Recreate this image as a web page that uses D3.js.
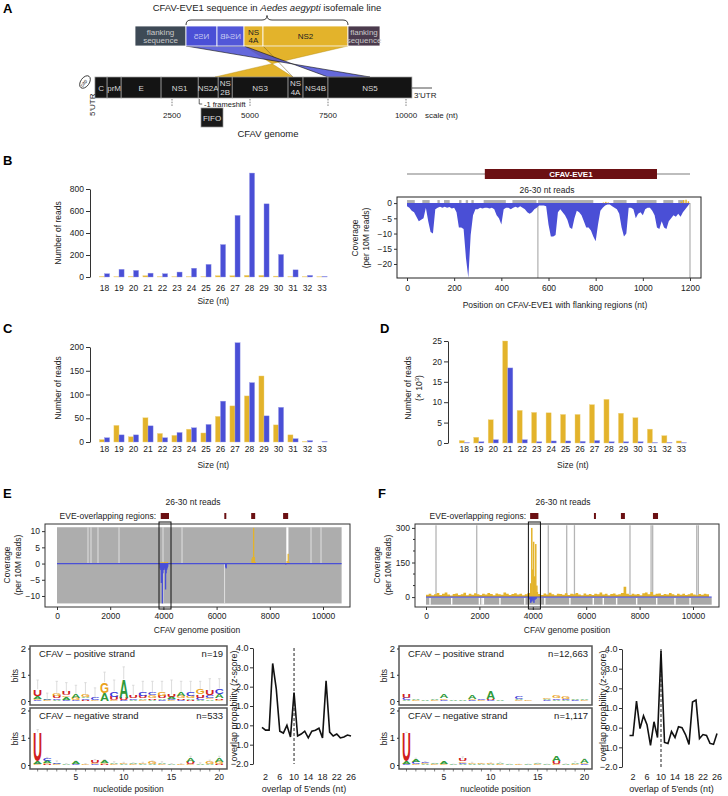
<!DOCTYPE html>
<html><head><meta charset="utf-8">
<script src="https://cdn.jsdelivr.net/npm/d3@7"></script>
<style>
body{margin:0;background:#fff;}
svg text{font-family:"Liberation Sans",Arial,Helvetica,sans-serif;}
</style></head><body>
<svg id="c" width="728" height="796"></svg>
<script>
// ---------------- DATA ----------------
const sizes = [18,19,20,21,22,23,24,25,26,27,28,29,30,31,32,33];
const bSense = [5,3,5,12,3,3,3,3,12,12,15,15,8,3,3,2];
const bAnti  = [30,70,60,35,30,45,80,115,295,560,945,665,205,65,15,5];
const cSense = [5,35,11,51,18,14,27,19,54,76,97,139,36,15,1,0];
const cAnti  = [9,15,15,34,9,20,30,37,86,209,125,55,73,7,3,1];
const dSense = [0.6,1.4,5.7,25,8,7.5,7.4,7,7,9.4,10.7,7.3,6.2,3.4,1.8,0.5];
const dAnti  = [0.1,0.3,0.8,18.4,0.8,0.3,0.5,0.5,0.4,0.6,0.3,0.3,0.3,0.1,0.1,0.05];
const bTicks = [0,200,400,600,800];
const cTicks = [0,50,100,150,200];
const dTicks = [0,5,10,15,20,25];

// Panel A
const genomeSegs = ["C","prM","E","NS1","NS2A","NS\n2B","NS3","NS\n4A","NS4B","NS5"];
const genomeBounds = [30,420,870,2150,3340,3980,4430,6220,6700,7500,10190];
const genomeTicks = [2500,5000,7500,10000];
const eveSegs = ["flanking\nsequence","NS5","NS4B","NS\n4A","NS2","flanking\nsequence"];
const eveBounds = [0,255,410,545,640,1065,1225];
const eveMirror = [false,true,true,false,false,false];
const linkEve = [[545,1065],[255,545]];
const linkGen = [[3878,6378],[8846,7500]];

// Panel B right: coverage on CFAV-EVE1 (per 10 nt)
const covStep = 10;
const covVal = [-1,-1.5,-2.5,-3,-4.5,-6,-5.5,-5,-1.5,-6,-9.5,-10,-2,-1.5,-1.2,-1.5,-1.2,-1.5,-1.3,-1.8,
 -1.5,-3,-8,-8,-8.5,-18,-24.5,-10.5,-4,-2,-2,-1.5,-1.8,-1.5,-1.5,-1.8,-1.5,-2,-4,-5,
 -7,-2,-1.5,-1.5,-2,-1.5,-1.2,-1.5,-1,-1.5,-2,-3,-3.5,-3,-2,-1.5,-0.8,-0.8,-0.8,-1,
 -7,-11,-11,-10.5,-3,-2,-3,-4,-5.5,-8,-8.5,-5,-2.5,-3,-4,-6,-8,-8,-9,-11,
 -12.5,-7,-2.5,-1.5,-0.8,-0.5,-0.5,-1,-1.5,-2,-3.5,-8,-11,-10,-1.5,-1.5,-2,-5,-3.5,-3,
 -4,-2,-1.5,-1.5,-2.5,-4,-8,-8.5,-6,-8,-8.5,-6,-5,-4,-4.5,-3.5,-4.5,-3,-2,-1,0];
const covSensePos = [830,840,850,1160,1170,1180,1190];
const covSenseVal = [0.2,0.4,0.2,0.5,1,1.1,0.6];
const eveMapStart = [0,65,129,157,221,249,273,325,447,556,875,974,1087,1150];
const eveMapEnd   = [33,96,139,181,231,259,283,419,549,790,931,1058,1129,1172];
const eveLines = [555,1200];
const covTicks = [0,-5,-10,-15,-20];
const posTicks = [0,200,400,600,800,1000,1200];

// Panels E/F top
const overlapStart = [3900,6290,7300,8500];
const overlapEnd   = [4210,6350,7450,8690];
const genomeLen = 10700;
const genomeAxisTicks = [0,2000,4000,6000,8000,10000];
const eGapUpper = [1165,1278,1541,2331,3985,4700,9549,9925];
const eGapWide = [8620,8700];
const eGapLower = [3985,6300];
const eAntiPos = [3880,3900,3920,3940,3960,3980,4000,4020,4040,4060,4080,4100,4120,4140,4160,6340,6360,8600];
const eAntiVal = [-1.5,-2,-6,-3,-12.3,-3,-2,-1.5,-1.5,-2,-8,-3,-2,-1.5,-1,-1.2,-1.5,-0.3];
const eSensePos = [3900,3950,4000,4050,4100,4150,7330,7360,7390,7420,7450,8650,8690,8720];
const eSenseVal = [0.4,0.5,0.4,0.5,0.4,0.5,1.5,2,11,2,0.5,0.8,3,0.5];
const eTicks = [-10,-5,0,5,10];

const fGrayLines = [375,1900,4580,5270,5560,7640,8430,8490,10140,10200];
const fRugGaps = [150,962,2000,2100,2150,2770,3700,4450,5390,6265,6640,7140,7890,8640,9325,9890];
const fNoiseStep = 100;
const fNoise = [10,14,8,12,18,9,15,20,11,7,13,16,9,12,19,8,14,10,17,12,9,15,11,18,13,8,16,12,10,20,14,9,13,17,11,15,8,12,18,10,
 14,22,13,9,16,11,19,12,8,15,13,10,17,9,14,12,18,11,8,16,10,13,9,15,12,20,11,14,8,13,16,10,12,18,45,14,9,15,11,13,
 8,17,20,12,22,10,14,16,9,13,11,18,12,8,15,10,14,9,12,17,11,8,13,10,15,12,9];
const fSpikePos = [3920,3960,4000,4030,4070,4110,4150];
const fSpikeVal = [60,300,120,240,90,230,50];
const fAntiPos = [3880,3920,3960,4000,4040,4080,4120];
const fAntiVal = [-10,-25,-20,-15,-25,-12,-8];
const fTicks = [0,150,300];
const fMinor = [50,100,200,250];

// Logos
const logoEPos = [
 [["C",.04],["G",.04],["A",.12],["U",.25]],
 [["G",.02],["C",.02],["A",.04]],
 [["A",.05],["C",.06],["U",.07],["G",.12]],
 [["C",.05],["A",.1],["G",.06],["U",.14]],
 [["C",.04],["G",.08],["A",.14]],
 [["U",.04],["C",.06],["A",.06],["G",.08]],
 [["G",.03],["C",.07]],
 [["A",.3],["G",.42]],
 [["G",.04],["U",.13],["C",.2]],
 [["C",.02],["U",.11],["A",.7]],
 [["A",.04],["C",.06],["U",.12]],
 [["G",.04],["A",.06],["U",.08],["C",.15]],
 [["A",.05],["U",.06],["G",.1],["C",.12]],
 [["C",.04],["A",.06],["U",.1],["G",.16]],
 [["G",.03],["C",.05],["A",.07],["U",.1]],
 [["C",.05],["U",.06],["G",.09],["A",.13]],
 [["U",.04],["A",.06],["G",.1],["C",.13]],
 [["A",.05],["C",.08],["U",.12],["G",.2]],
 [["A",.06],["G",.06],["C",.1],["U",.18]],
 [["G",.04],["U",.06],["A",.17],["C",.2]]];
const logoEPosErr = [0.8,0.3,0.75,0.7,0.6,0.7,0.5,1.1,0.8,1.3,0.6,0.75,0.75,0.75,0.8,0.75,0.75,0.75,0.85,0.85];
const logoENeg = [
 [["G",.02],["C",.03],["A",.1],["U",1.05]],
 [["U",.03],["G",.04],["A",.07],["C",.08]],
 [["G",.02],["A",.03],["C",.05]],
 [["A",.02]],
 [["C",.02],["A",.08]],
 [["G",.02]],
 [["C",.02],["G",.04],["U",.07]],
 [["U",.03],["G",.05],["A",.07]],
 [["G",.03],["A",.05]],
 [["A",.02],["G",.03]],
 [["G",.02],["A",.03]],
 [["A",.02],["G",.03]],
 [["A",.03],["G",.07]],
 [["G",.03],["A",.05]],
 [["A",.02]],
 [["G",.02]],
 [["G",.02],["U",.08],["A",.15]],
 [["A",.03]],
 [["A",.04],["G",.08]],
 [["U",.03],["G",.08],["A",.14]]];
const logoENegErr = [1.3,0.28,0.15,0.05,0.15,0.05,0.2,0.2,0.12,0.1,0.08,0.1,0.15,0.12,0.05,0.05,0.32,0.08,0.18,0.32];
const logoFPos = [
 [["A",.04],["C",.08],["U",.13]],
 [["G",.02],["A",.02]],
 [["A",.02]],
 [["G",.02],["A",.02]],
 [["C",.04],["G",.06],["A",.15]],
 [["A",.02]],
 [["A",.02]],
 [["C",.03],["G",.06],["A",.13]],
 [["G",.02],["C",.04]],
 [["C",.03],["U",.05],["A",.28]],
 [["A",.02]],
 [["A",.01]],
 [["G",.03],["A",.04],["C",.12]],
 [["G",.02]],
 [["A",.01]],
 [["C",.03],["A",.03],["G",.05]],
 [["A",.04],["C",.06],["G",.1]],
 [["A",.03],["C",.05],["G",.07]],
 [["C",.02],["A",.03]],
 [["G",.03],["A",.06]]];
const logoFNeg = [
 [["C",.02],["G",.03],["A",.08],["U",1.05]],
 [["G",.03],["C",.07],["A",.1]],
 [["A",.03],["G",.03],["C",.05]],
 [["G",.02],["A",.03]],
 [["G",.03],["A",.07]],
 [["A",.02]],
 [["A",.03],["C",.05],["G",.05],["U",.08]],
 [["A",.03],["G",.05]],
 [["A",.02],["G",.03]],
 [["A",.03],["G",.03]],
 [["G",.03],["A",.05]],
 [["A",.02]],
 [["G",.02]],
 [["A",.02]],
 [["G",.02],["A",.04]],
 [["A",.02]],
 [["G",.03],["U",.1],["A",.17]],
 [["A",.03]],
 [["G",.04],["A",.06]],
 [["C",.03],["G",.06],["A",.12]]];
const logoFNegErr = [1.2,0.25,0.13,0.06,0.12,0.03,0.3,0.1,0.06,0.08,0.1,0.03,0.03,0.03,0.07,0.03,0.3,0.04,0.12,0.23];
const nucPositions = [1,2,3,4,5,6,7,8,9,10,11,12,13,14,15,16,17,18,19,20];
const nucTicks = [5,10,15,20];

// z-scores
const overlaps = [1,2,3,4,5,6,7,8,9,10,11,12,13,14,15,16,17,18,19,20,21,22,23,24,25,26];
const zE = [-0.1,-0.25,-0.25,3.2,1.9,-0.3,-0.4,0,-0.6,1.7,-0.55,-0.45,-0.3,-0.65,-0.3,-0.25,-0.15,-0.65,2.3,-0.35,-0.55,-0.45,-0.65,-0.6,-0.5,-0.55];
const zF = [-0.4,-0.4,1.35,-0.05,0.6,0.15,-0.9,0.3,-0.5,3.9,-0.75,-0.8,-0.2,-0.5,0.05,0,-0.35,-0.85,1.3,1.4,-0.55,-0.35,-0.4,-0.8,-0.85,-0.3];
const zTicks = [-2,-1,0,1,2,3,4];
const ovTicks = [2,6,10,14,18,22,26];

// ---------------- DRAW ----------------
const BLUE="#4a4fd6", YEL="#e3b32b", DRED="#6b1013", GRAY="#b0b0b0";
const LCOL = {A:"#2f9a3a",C:"#3a3ad8",G:"#eaa21c",U:"#d0201e"};
const LW = {A:7.22,C:7.22,G:7.78,U:7.22};
const svg = d3.select("#c");
svg.append("rect").attr("width",728).attr("height",796).attr("fill","#fff");
const fmtInt = d3.format("d");

function txt(g,x,y,s,o={}){
  const t=g.append("text").attr("x",x).attr("y",y).text(s)
   .attr("font-size",o.fs||8.5).attr("fill",o.fill||"#222");
  if(o.anchor) t.attr("text-anchor",o.anchor);
  if(o.fw) t.attr("font-weight",o.fw);
  if(o.rot) t.attr("transform",`rotate(${o.rot},${x},${y})`);
  return t;
}
function styleAxis(ag){
  ag.attr("font-family",null).attr("font-size",8.5);
  ag.selectAll("text").attr("fill","#222");
  ag.selectAll("line").attr("stroke","#333");
  ag.select(".domain").attr("stroke","#333");
  return ag;
}
function panelLabel(x,y,s){ txt(svg,x,y,s,{fs:13,fw:"bold",fill:"#000"}); }

// ===== Panel A =====
panelLabel(3,13,"A");
const gA = svg.append("g");
const gx = d3.scaleLinear().domain([0,10000]).range([94,406]);
const ex = d3.scaleLinear().domain([0,1225]).range([135,380]);
{
  const t = gA.append("text").attr("x",267).attr("y",11).attr("text-anchor","middle").attr("font-size",9.5).attr("fill","#222");
  t.append("tspan").text("CFAV-EVE1 sequence in ");
  t.append("tspan").attr("font-style","italic").text("Aedes aegypti");
  t.append("tspan").text(" isofemale line");
  const b0=ex(eveBounds[1]), b1=ex(eveBounds[5]), m=(b0+b1)/2;
  gA.append("path").attr("d",`M${b0},25 Q${b0},20 ${b0+5},20 L${m-5},20 Q${m},20 ${m},15.5 Q${m},20 ${m+5},20 L${b1-5},20 Q${b1},20 ${b1},25`)
    .attr("fill","none").attr("stroke","#222").attr("stroke-width",0.9);
}
// links
gA.append("polygon").attr("points",[[ex(linkEve[0][0]),46],[ex(linkEve[0][1]),46],[gx(linkGen[0][0]),77],[gx(linkGen[0][1]),77]].map(p=>p.join(",")).join(" "))
  .attr("fill",YEL).attr("stroke","#b08a10").attr("stroke-width",0.4);
gA.append("line").attr("x1",ex(640)).attr("y1",46).attr("x2",gx(linkGen[0][1])).attr("y2",77).attr("stroke","#6a5a20").attr("stroke-width",0.5);
gA.append("polygon").attr("points",[[ex(linkEve[1][0]),46],[ex(linkEve[1][1]),46],[gx(linkGen[1][1]),77],[gx(linkGen[1][0]),77]].map(p=>p.join(",")).join(" "))
  .attr("fill",BLUE).attr("fill-opacity",0.85).attr("stroke","#111").attr("stroke-width",0.6);
// EVE bar
const eveCols = ["#3e4a56",BLUE,"#5257d8",YEL,YEL,"#4b3b4d"];
const eveTxt = ["#c9c9c9","#c5c8f0","#c5c8f0","#222","#222","#c9c9c9"];
eveSegs.forEach((s,i)=>{
  const x0=ex(eveBounds[i]), x1=ex(eveBounds[i+1]);
  gA.append("rect").attr("x",x0).attr("y",26).attr("width",x1-x0).attr("height",20).attr("fill",eveCols[i]).attr("stroke","#fff").attr("stroke-width",0.8);
  const lines=s.split("\n"), cx=(x0+x1)/2;
  lines.forEach((l,j)=>{
    const y = lines.length===1 ? 39 : 34.5+j*8;
    const t = txt(gA,cx,y,l,{fs:8,anchor:"middle",fill:eveTxt[i]});
    if(eveMirror[i]) t.attr("transform",`translate(${2*cx},0) scale(-1,1)`);
  });
});
// genome bar
genomeSegs.forEach((s,i)=>{
  const x0=gx(genomeBounds[i]), x1=gx(genomeBounds[i+1]);
  gA.append("rect").attr("x",x0).attr("y",77).attr("width",x1-x0).attr("height",21).attr("fill","#141414").attr("stroke","#a0a0a0").attr("stroke-width",0.7);
  const lines=s.split("\n"), cx=(x0+x1)/2;
  lines.forEach((l,j)=>{
    const y = lines.length===1 ? 91 : 86+j*8.5;
    txt(gA,cx,y,l,{fs:8,anchor:"middle",fill:"#d8d8d8"});
  });
});
gA.append("ellipse").attr("cx",85).attr("cy",82).attr("rx",7).attr("ry",4.3).attr("transform","rotate(-55,85,82)").attr("fill","#fff").attr("stroke","#222").attr("stroke-width",0.8);
txt(gA,85,84,"cap",{fs:5,anchor:"middle",rot:-55});
txt(gA,95,116,"5'UTR",{fs:8,rot:-90});
gA.append("line").attr("x1",gx(genomeBounds[10])).attr("x2",432).attr("y1",88).attr("y2",88).attr("stroke","#222").attr("stroke-width",0.8);
txt(gA,414,98,"3'UTR",{fs:8});
gA.append("path").attr("d",`M${gx(genomeBounds[4])+1},99 L${gx(genomeBounds[4])+1},104 L${gx(genomeBounds[4])+4},104`).attr("fill","none").attr("stroke","#222").attr("stroke-width",0.7);
txt(gA,204,107,"-1 frameshift",{fs:7.5});
gA.append("rect").attr("x",201).attr("y",108).attr("width",22).attr("height",19).attr("fill","#1a1a1a").attr("stroke","#999").attr("stroke-width",0.7);
txt(gA,212,121,"FIFO",{fs:8,anchor:"middle",fill:"#e0e0e0"});
genomeTicks.forEach(t=>{
  gA.append("line").attr("x1",gx(t)).attr("x2",gx(t)).attr("y1",99).attr("y2",107).attr("stroke","#444").attr("stroke-width",0.7).attr("stroke-dasharray","1.5,1.2");
  txt(gA,gx(t),118,t,{fs:8,anchor:"middle"});
});
txt(gA,425,118,"scale (nt)",{fs:8});
txt(gA,268,137,"CFAV genome",{fs:9.5,anchor:"middle"});

// ===== Bar chart helper =====
function barChart(cfg){
  const g = svg.append("g");
  const xb = d3.scaleBand().domain(sizes).range(cfg.xr);
  const y = d3.scaleLinear().domain(cfg.yd).range(cfg.yr);
  const bw = 5.1, h = xb.bandwidth()/2;
  sizes.forEach((s,i)=>{
    const c = xb(s)+h;
    g.append("rect").attr("x",c-bw).attr("width",bw).attr("y",y(cfg.sense[i])).attr("height",y(0)-y(cfg.sense[i])).attr("fill",YEL).attr("stroke","#f0d787").attr("stroke-width",0.4);
    g.append("rect").attr("x",c).attr("width",bw).attr("y",y(cfg.anti[i])).attr("height",y(0)-y(cfg.anti[i])).attr("fill",BLUE).attr("stroke","#9a9de8").attr("stroke-width",0.4);
    txt(g,c,cfg.labY,s,{anchor:"middle"});
  });
  styleAxis(g.append("g").attr("transform",`translate(${cfg.ax},0)`).call(d3.axisLeft(y).tickValues(cfg.ticks).tickSize(4).tickPadding(2).tickSizeOuter(0)));
  txt(g,(cfg.xr[0]+cfg.xr[1])/2,cfg.titleY,"Size (nt)",{anchor:"middle"});
  return g;
}
// B left
panelLabel(3,165,"B");
const gB = barChart({xr:[97.25,97.25+14.5*16],yd:[0,800],yr:[277,189],ax:90,ticks:bTicks,sense:bSense,anti:bAnti,labY:291,titleY:304});
txt(gB,61,233,"Number of reads",{anchor:"middle",rot:-90});
// C
panelLabel(3,333,"C");
const gC = barChart({xr:[97.25,97.25+14.5*16],yd:[0,200],yr:[442,347],ax:90,ticks:cTicks,sense:cSense,anti:cAnti,labY:452,titleY:468});
txt(gC,61,388,"Number of reads",{anchor:"middle",rot:-90});
// D
panelLabel(380,333,"D");
const gD = barChart({xr:[457.1,457.1+14.47*16],yd:[0,25],yr:[443,341],ax:448,ticks:dTicks,sense:dSense,anti:dAnti,labY:452,titleY:468});
txt(gD,411,388,"Number of reads",{anchor:"middle",rot:-90});
{
  const t = gD.append("text").attr("x",422).attr("y",388).attr("text-anchor","middle").attr("font-size",8.5).attr("fill","#222").attr("transform","rotate(-90,422,388)");
  t.append("tspan").text("(\u00d7 10");
  t.append("tspan").attr("font-size",6).attr("dy",-3).text("3");
  t.append("tspan").attr("dy",3).text(")");
}

// ===== B right =====
{
  const g = svg.append("g");
  const x = d3.scaleLinear().domain([0,1200]).range([407,690]);
  const y = d3.scaleLinear().domain([-24.6,2]).range([278,197]);
  g.append("line").attr("x1",x(0)).attr("x2",x(1200)).attr("y1",174).attr("y2",174).attr("stroke","#bdbdbd").attr("stroke-width",2);
  g.append("rect").attr("x",x(330)).attr("y",169).attr("width",x(1060)-x(330)).attr("height",10).attr("fill",DRED);
  txt(g,(x(330)+x(1060))/2,177.3,"CFAV-EVE1",{fs:8,fw:"bold",anchor:"middle",fill:"#fff"});
  txt(g,547,193,"26-30 nt reads",{anchor:"middle"});
  eveMapStart.forEach((s,i)=>g.append("rect").attr("x",x(s)).attr("width",x(eveMapEnd[i])-x(s)).attr("y",y(1)).attr("height",y(0)-y(1)).attr("fill",GRAY));
  eveLines.forEach(p=>g.append("line").attr("x1",x(p)).attr("x2",x(p)).attr("y1",y(0)).attr("y2",278).attr("stroke",GRAY).attr("stroke-width",1.2));
  const area = d3.area().x((d,i)=>x(i*covStep)).y0(y(0)).y1(d=>y(d)).curve(d3.curveLinear);
  g.append("path").datum(covVal).attr("d",area).attr("fill",BLUE);
  covSensePos.forEach((p,i)=>g.append("rect").attr("x",x(p)).attr("width",1.5).attr("y",y(covSenseVal[i])).attr("height",y(0)-y(covSenseVal[i])).attr("fill",YEL));
  g.append("rect").attr("x",397).attr("y",197).attr("width",304).attr("height",81).attr("fill","none").attr("stroke","#222").attr("stroke-width",1);
  const ay = styleAxis(g.append("g").attr("transform","translate(397,0)").call(d3.axisLeft(y).tickValues(covTicks).tickSize(3).tickPadding(2).tickFormat(fmtInt)));
  ay.select(".domain").remove();
  const ax = styleAxis(g.append("g").attr("transform","translate(0,278)").call(d3.axisBottom(x).tickValues(posTicks).tickSize(3).tickPadding(4).tickFormat(fmtInt)));
  ax.select(".domain").remove();
  txt(g,555,308,"Position on CFAV-EVE1 with flanking regions (nt)",{anchor:"middle"});
  txt(g,358,238,"Coverage",{anchor:"middle",rot:-90});
  txt(g,369,238,"(per 10M reads)",{anchor:"middle",rot:-90});
}

// ===== E / F top =====
function genomePanel(cfg){
  const g = svg.append("g");
  const x = d3.scaleLinear().domain([0,10000]).range(cfg.xr);
  const y = d3.scaleLinear().domain(cfg.yd).range([607,524]);
  const bx0 = cfg.box[0], bx1 = cfg.box[1];
  txt(g,cfg.titleX,505,"26-30 nt reads",{anchor:"middle"});
  txt(g,cfg.eveX,519,"EVE-overlapping regions:",{anchor:"end"});
  overlapStart.forEach((s,i)=>g.append("rect").attr("x",x(s)).attr("width",Math.max(2,x(overlapEnd[i])-x(s))).attr("y",513).attr("height",6).attr("fill",DRED));
  cfg.draw(g,x,y);
  g.append("rect").attr("x",bx0).attr("y",524).attr("width",bx1-bx0).attr("height",83).attr("fill","none").attr("stroke","#333").attr("stroke-width",1);
  const ay = styleAxis(g.append("g").attr("transform",`translate(${bx0},0)`).call(d3.axisLeft(y).tickValues(cfg.ticks).tickSize(3).tickPadding(2)));
  ay.select(".domain").remove();
  if(cfg.minor) cfg.minor.forEach(v=>g.append("line").attr("x1",bx0-2).attr("x2",bx0).attr("y1",y(v)).attr("y2",y(v)).attr("stroke","#333"));
  const ax = styleAxis(g.append("g").attr("transform","translate(0,607)").call(d3.axisBottom(x).tickValues(genomeAxisTicks).tickSize(3).tickPadding(3).tickFormat(fmtInt)));
  ax.select(".domain").remove();
  g.append("rect").attr("x",x(3835)).attr("y",522).attr("width",x(4286)-x(3835)).attr("height",87).attr("fill","none").attr("stroke","#111").attr("stroke-width",1);
  txt(g,cfg.titleX+4,633,"CFAV genome position",{anchor:"middle"});
  txt(g,cfg.ylx,565,"Coverage",{anchor:"middle",rot:-90});
  txt(g,cfg.ylx+11,565,"(per 10M reads)",{anchor:"middle",rot:-90});
  return g;
}
panelLabel(3,498,"E");
genomePanel({xr:[57,323],yd:[-13.4,12.2],box:[45,350],titleX:193,eveX:156,ticks:eTicks,ylx:10,
  draw:(g,x,y)=>{
    g.append("rect").attr("x",x(0)).attr("width",x(genomeLen)-x(0)).attr("y",y(11.2)).attr("height",y(-12.3)-y(11.2)).attr("fill","#adadad");
    eGapUpper.forEach(p=>g.append("line").attr("x1",x(p)).attr("x2",x(p)).attr("y1",y(11.2)).attr("y2",y(0)).attr("stroke","#e6e6e6").attr("stroke-width",0.9));
    g.append("rect").attr("x",x(eGapWide[0])).attr("width",x(eGapWide[1])-x(eGapWide[0])).attr("y",y(11.2)).attr("height",y(0)-y(11.2)).attr("fill","#fff");
    eGapLower.forEach(p=>g.append("line").attr("x1",x(p)).attr("x2",x(p)).attr("y1",y(0)).attr("y2",y(-12.3)).attr("stroke","#e6e6e6").attr("stroke-width",0.9));
    eSensePos.forEach((p,i)=>g.append("rect").attr("x",x(p)-0.6).attr("width",1.3).attr("y",y(eSenseVal[i])).attr("height",y(0)-y(eSenseVal[i])).attr("fill",YEL));
    eAntiPos.forEach((p,i)=>g.append("rect").attr("x",x(p)-0.6).attr("width",1.3).attr("y",y(0)).attr("height",y(eAntiVal[i])-y(0)).attr("fill",BLUE));
    g.append("line").attr("x1",x(0)).attr("x2",x(genomeLen)).attr("y1",y(0)).attr("y2",y(0)).attr("stroke",BLUE).attr("stroke-width",1.3);
  }});
panelLabel(378,498,"F");
genomePanel({xr:[426,693],yd:[-43,317],box:[415,719],titleX:563,eveX:526,ticks:fTicks,minor:fMinor,ylx:380,
  draw:(g,x,y)=>{
    fGrayLines.forEach(p=>g.append("line").attr("x1",x(p)).attr("x2",x(p)).attr("y1",y(0)).attr("y2",y(312)).attr("stroke","#b5b5b5").attr("stroke-width",1.3));
    g.append("rect").attr("x",x(0)).attr("width",x(genomeLen)-x(0)).attr("y",y(-3)).attr("height",y(-33)-y(-3)).attr("fill","#a8a8a8");
    fRugGaps.forEach(p=>g.append("line").attr("x1",x(p)).attr("x2",x(p)).attr("y1",y(-3)).attr("y2",y(-33)).attr("stroke","#fff").attr("stroke-width",1.4));
    const area = d3.area().x((d,i)=>x(i*fNoiseStep)).y0(y(0)).y1(d=>y(d)).curve(d3.curveStepAfter);
    g.append("path").datum(fNoise).attr("d",area).attr("fill",YEL);
    fSpikePos.forEach((p,i)=>g.append("rect").attr("x",x(p)-0.7).attr("width",1.5).attr("y",y(fSpikeVal[i])).attr("height",y(0)-y(fSpikeVal[i])).attr("fill",YEL));
    fAntiPos.forEach((p,i)=>g.append("rect").attr("x",x(p)-0.7).attr("width",1.5).attr("y",y(0)).attr("height",y(fAntiVal[i])-y(0)).attr("fill",BLUE));
    g.append("line").attr("x1",x(0)).attr("x2",x(genomeLen)).attr("y1",y(0)).attr("y2",y(0)).attr("stroke",BLUE).attr("stroke-width",1.2);
  }});

// ===== Logos =====
function logo(cfg){
  const g = svg.append("g");
  const x = d3.scaleLinear().domain([0.2,20.8]).range(cfg.xr);
  const colW = (x(2)-x(1))*0.95;
  [[cfg.pos,cfg.posErr,646,705,"CFAV \u2013 positive strand",cfg.nPos],[cfg.neg,cfg.negErr,708,769,"CFAV \u2013 negative strand",cfg.nNeg]].forEach(([stk,err,top,bot,label,n])=>{
    const y = d3.scaleLinear().domain([0,2]).range([bot-4,top+2.5]);
    const lg = g.append("g");
    stk.forEach((st,i)=>{
      const p = nucPositions[i];
      let cur = 0;
      const tot = st.reduce((a,b)=>a+b[1],0);
      if(err && err[i]>tot){
        lg.append("line").attr("x1",x(p)).attr("x2",x(p)).attr("y1",y(tot)).attr("y2",y(err[i])).attr("stroke","#d4d4d4").attr("stroke-width",0.8);
        lg.append("line").attr("x1",x(p)-1.2).attr("x2",x(p)+1.2).attr("y1",y(err[i])).attr("y2",y(err[i])).attr("stroke","#d4d4d4").attr("stroke-width",0.8);
      }
      st.forEach(([L,h])=>{
        const y0 = y(cur), y1 = y(cur+h), hp = y0-y1;
        cur += h;
        if(hp<0.35) return;
        const sx = colW/LW[L], sy = hp/7.16;
        lg.append("text").text(L).attr("font-size",10).attr("font-weight","bold").attr("fill",LCOL[L])
          .attr("transform",`translate(${x(p)-colW/2},${y0}) scale(${sx},${sy})`);
      });
    });
    g.append("rect").attr("x",cfg.xr[0]).attr("y",top).attr("width",cfg.xr[1]-cfg.xr[0]).attr("height",bot-top).attr("fill","none").attr("stroke","#555").attr("stroke-width",1.5);
    const ay = styleAxis(g.append("g").attr("transform",`translate(${cfg.xr[0]},0)`).call(d3.axisLeft(y).tickValues([0,1,2]).tickSize(2).tickPadding(2).tickFormat(fmtInt)));
    ay.select(".domain").remove();
    ay.selectAll("text").attr("font-size",9.5);
    txt(g,cfg.xr[0]+9,657+(top-646),label,{fs:9.5});
    txt(g,cfg.xr[1]-4,657+(top-646),n,{fs:9.5,anchor:"end"});
    txt(g,cfg.xr[0]-12,(top+bot)/2,"bits",{fs:8.5,anchor:"middle",rot:-90});
  });
  nucPositions.forEach(p=>g.append("line").attr("x1",x(p)).attr("x2",x(p)).attr("y1",769).attr("y2",771.5).attr("stroke","#333").attr("stroke-width",0.6));
  nucTicks.forEach(p=>txt(g,x(p),780,p,{anchor:"middle"}));
  txt(g,(cfg.xr[0]+cfg.xr[1])/2,792,"nucleotide position",{anchor:"middle"});
}
logo({xr:[30,227],pos:logoEPos,posErr:logoEPosErr,neg:logoENeg,negErr:logoENegErr,nPos:"n=19",nNeg:"n=533"});
logo({xr:[399,592],pos:logoFPos,posErr:null,neg:logoFNeg,negErr:logoFNegErr,nPos:"n=12,663",nNeg:"n=1,117"});

// ===== z-score line charts =====
function zChart(cfg){
  const g = svg.append("g");
  const x = d3.scaleLinear().domain([1,26]).range(cfg.xr);
  const y = d3.scaleLinear().domain([-2,4]).range(cfg.yr);
  g.append("line").attr("x1",x(10)).attr("x2",x(10)).attr("y1",y(4)).attr("y2",y(-2)).attr("stroke","#222").attr("stroke-width",1).attr("stroke-dasharray","3,2");
  const line = d3.line().x((d,i)=>x(overlaps[i])).y(d=>y(d));
  g.append("path").datum(cfg.z).attr("d",line).attr("fill","none").attr("stroke","#111").attr("stroke-width",1.6).attr("stroke-linejoin","miter");
  styleAxis(g.append("g").attr("transform",`translate(${cfg.ax},0)`).call(d3.axisLeft(y).tickValues(zTicks).tickSize(3).tickPadding(1.5).tickSizeOuter(0)))
    .selectAll("text").attr("font-size",9);
  ovTicks.forEach(t=>txt(g,x(t),780,t,{anchor:"middle",fs:9}));
  txt(g,(cfg.ax+cfg.xr[1])/2+2,792,"overlap of 5'ends (nt)",{anchor:"middle",fs:9});
  txt(g,cfg.ylx,706,"overlap propability (z-score)",{anchor:"middle",rot:-90,fs:9});
}
zChart({xr:[262,351],yr:[764,648],ax:253,z:zE,ylx:237});
zChart({xr:[629.5,717],yr:[767,649],ax:622,z:zF,ylx:606});
</script>
</body></html>
